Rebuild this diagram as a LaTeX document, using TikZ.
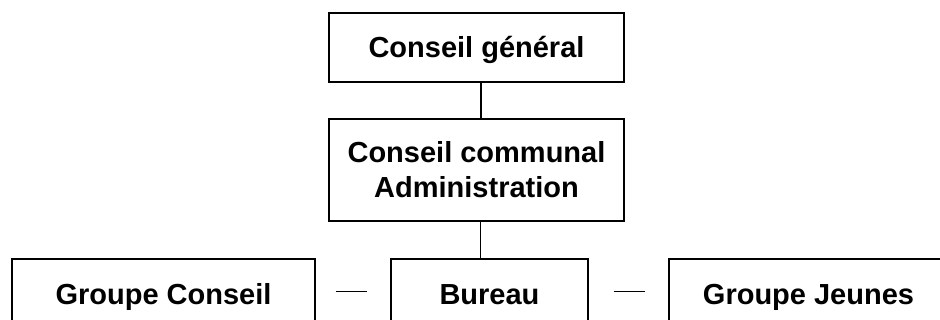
\documentclass[tikz,border=0pt]{standalone}
\usepackage{fontspec}
\setmainfont{Liberation Sans}
\begin{document}
\begin{tikzpicture}[x=1pt,y=1pt,
  box/.style={draw, line width=1.4pt, inner sep=0pt, align=center,
    font=\fontsize{29}{35}\selectfont\bfseries},
  onebox/.style={box, text height=26pt, text depth=5.5pt},
  conn/.style={line width=1.4pt},
  thin/.style={line width=0.9pt}]
\useasboundingbox (0,0) rectangle (940,-320);
\clip (0,0) rectangle (940,-320);
\node[onebox, minimum width=295pt, minimum height=69pt] (cg) at (476.5,-47.5) {Conseil général};
\node[box, minimum width=295pt, minimum height=102pt] (cc) at (476.5,-170) {Conseil communal\\Administration};
\node[onebox, minimum width=303pt, minimum height=70pt] (gc) at (163.5,-294) {Groupe Conseil};
\node[onebox, minimum width=197pt, minimum height=70pt] (bu) at (489.5,-294) {Bureau};
\node[onebox, minimum width=279pt, minimum height=70pt] (gj) at (808.5,-294) {Groupe Jeunes};
\draw[conn] ([xshift=4.5pt]cg.south) -- ([xshift=4.5pt]cc.north);
\draw[conn] ([xshift=4pt]cc.south) -- ([xshift=4pt]cc.south |- bu.north);
\draw[thin, shorten <=20pt, shorten >=23pt] ([yshift=3pt]gc.east) -- ([yshift=3pt]bu.west);
\draw[thin, shorten <=25pt, shorten >=23pt] ([yshift=3pt]bu.east) -- ([yshift=3pt]gj.west);
\end{tikzpicture}
\end{document}
